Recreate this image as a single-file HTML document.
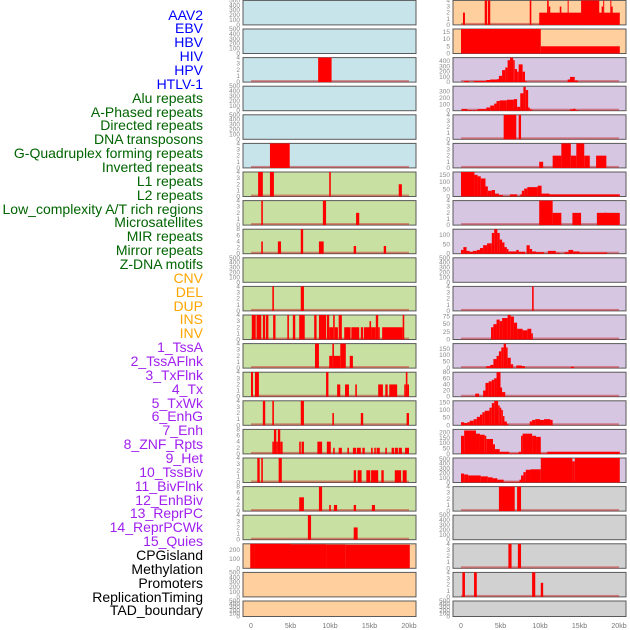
<!DOCTYPE html>
<html><head><meta charset="utf-8">
<style>
html,body{margin:0;padding:0;background:#fff;}
#wrap{position:relative;width:630px;height:630px;overflow:hidden;font-family:"Liberation Sans",sans-serif;}
.lbl{position:absolute;right:427px;font-size:14px;line-height:14px;white-space:nowrap;text-align:right;}
</style></head>
<body>
<div id="wrap">
<svg id="svg" width="630" height="630" style="position:absolute;left:0;top:0"></svg>
</div>
<script>
const trackLabels = ["AAV2","EBV","HBV","HIV","HPV","HTLV-1","Alu repeats","A-Phased repeats","Directed repeats","DNA transposons","G-Quadruplex forming repeats","Inverted repeats","L1 repeats","L2 repeats","Low_complexity A/T rich regions","Microsatellites","MIR repeats","Mirror repeats","Z-DNA motifs","CNV","DEL","DUP","INS","INV","1_TssA","2_TssAFlnk","3_TxFlnk","4_Tx","5_TxWk","6_EnhG","7_Enh","8_ZNF_Rpts","9_Het","10_TssBiv","11_BivFlnk","12_EnhBiv","13_ReprPC","14_ReprPCWk","15_Quies","CPGisland","Methylation","Promoters","ReplicationTiming","TAD_boundary"];
const labelGroup = ["b","b","b","b","b","b","g","g","g","g","g","g","g","g","g","g","g","g","g","o","o","o","o","o","p","p","p","p","p","p","p","p","p","p","p","p","p","p","p","k","k","k","k","k"];
const xTickLabels = ["0","5kb","10kb","15kb","20kb"];
const xTickValues = [0,5,10,15,20];
const leftBg = ["b","b","b","b","b","b","g","g","g","g","g","g","g","g","g","g","g","g","g","o","o","o"];
const rightBg = ["o","o","p","p","p","p","p","p","p","p","p","p","p","p","p","p","p","y","y","y","y","y"];
const leftMax = [500,500,4,500,500,4,4,4,8,500,4,4,4,4,4,8,4,8,4,270,500,500];
const rightMax = [4,17,470,380,4,4,170,4,130,500,4,80,190,80,160,230,520,4,500,4,4,500];
const leftTickStep = [100,100,1,100,100,1,1,1,2,100,1,1,1,1,1,2,1,2,1,100,100,100];
const rightTickStep = [1,5,100,100,1,1,50,1,50,100,1,25,50,20,50,50,100,1,100,1,1,100];
const leftSegs = [
[],[],
[[8.5,10.2,4]],
[],[],
[[2.4,4.9,4]],
[[0.9,1.5,4],[2.4,2.9,4],[9.9,10.1,4],[18.7,19.1,2]],
[[1.3,1.5,4],[9.1,9.5,4],[13.3,13.7,2]],
[[1.3,1.5,4],[3.4,3.8,4],[6.3,6.6,8],[8.6,9.2,4],[13,13.3,2.5],[16.8,17.1,2.5]],
[],
[[2.7,2.9,4],[6.3,6.7,4]],
[[0.1,0.6,4],[0.7,1.3,4],[1.5,1.8,4],[1.9,2.2,4],[2.8,3.1,4],[4.6,4.8,4],[5.3,5.6,4],[6.1,6.8,4],[8.0,8.3,4],[8.6,9.5,4],[9.6,9.9,4],[9.9,10.4,2],[10.4,10.6,4],[10.6,11.0,2],[11.1,11.5,4],[11.8,12.6,2],[12.7,13.7,2],[13.9,14.2,2],[14.3,15.0,2],[15.0,15.2,3],[15.2,15.8,2],[15.8,16.1,4],[16.1,16.3,2],[16.6,19.2,2],[19.2,19.4,4]],
[[8.1,8.6,4],[9.9,10.3,2],[10.3,10.5,4],[10.5,11.3,2],[11.3,12.0,4],[12.5,12.9,2]],
[[0,0.25,4],[0.5,1.0,4],[9.5,9.8,4],[10.9,11.3,2],[11.9,12.4,2],[13.2,13.4,2],[16.1,16.7,2],[17.0,17.3,2],[17.5,18.5,2],[19.4,19.6,2],[19.6,19.8,4],[19.8,20.0,2]],
[[1.5,1.8,4],[2.7,2.9,4],[6.3,6.7,4],[10.3,10.5,2],[13.9,14.2,2],[19.7,20.0,2]],
[[2.7,2.9,4],[2.9,3.2,8],[3.2,3.4,4],[3.4,3.7,8],[3.7,4.0,4],[6.1,6.3,4],[6.4,6.7,4],[8.4,9.0,4],[9.6,10.1,4],[10.4,10.6,2],[11.1,11.5,2],[12.2,12.4,2],[12.9,13.3,2],[13.4,13.9,2],[14.1,14.4,2],[15.2,15.4,2],[15.6,15.8,2],[15.9,16.3,2],[17.0,17.2,2],[17.8,18.1,2],[18.2,18.6,2],[18.7,19.1,2],[19.5,20.0,2]],
[[0.8,1.1,4],[1.3,1.5,4],[3.5,3.9,4],[13.0,13.3,2],[13.5,14.0,2],[14.6,15.1,2],[15.2,16.1,2],[16.5,16.8,2],[18.2,19.0,2],[19.2,19.7,2]],
[[6.1,6.7,4.5],[8.6,9.0,8],[9.9,10.1,2],[10.5,10.9,2],[13.0,13.3,2],[15.3,15.7,2]],
[[7.2,7.6,4],[13.0,13.5,2]],
[[-0.1,0.5,275],[0.5,5.0,270],[5.0,9.5,265],[9.5,12.0,262],[12.0,20.1,260]],
[],[]
];
const rightSegs = [
[[0.25,0.5,2],[3.0,3.3,4],[3.4,3.7,4],[8.7,8.9,4],[9.9,20.1,2],[10.9,11.1,4],[11.1,11.3,3],[12.5,12.7,3],[13.5,13.6,4],[15.2,17.5,4],[18.0,18.1,4],[17.8,18.0,3],[18.9,19.0,4],[19.0,19.2,3]],
[[0,10.1,17],[10.1,20.1,5]],
[[0.4,1.0,20],[1.6,3.2,20],[3.2,3.7,40],[3.7,4.6,50],[4.6,4.8,60],[4.8,5.2,120],[5.2,5.6,230],[5.6,5.9,280],[5.9,6.2,420],[6.2,6.6,470],[6.6,6.8,420],[6.8,7.1,250],[7.1,7.3,200],[7.3,7.8,340],[7.8,8.1,200],[8.1,8.3,20],[13.5,13.8,50],[13.8,14.4,100],[14.4,14.8,30]],
[[0.1,0.8,25],[0.8,1.4,10],[1.5,2.1,10],[2.1,3.2,25],[3.2,3.7,50],[3.7,4.2,80],[4.2,4.5,110],[4.5,4.9,150],[4.9,5.8,160],[5.8,6.7,170],[6.7,7.1,180],[7.1,7.5,60],[7.5,7.9,270],[7.9,8.2,370],[8.2,8.5,320],[8.5,8.7,50],[8.7,9.0,20],[13.8,14.2,20],[14.2,14.5,30],[14.5,14.8,10]],
[[5.4,7.0,4],[7.3,7.6,4]],
[[9.9,10.4,1],[11.6,12.7,2],[12.7,13.9,4],[13.9,14.6,2],[14.6,15.6,4],[15.6,16.3,2],[17.1,18.4,2]],
[[0,1.7,170],[1.7,2.1,150],[2.1,2.5,140],[2.5,3.1,125],[3.1,3.4,70],[3.4,3.9,40],[3.9,4.3,45],[4.3,4.8,20],[4.8,5.3,10],[6.2,7.1,15],[7.5,7.7,15],[7.7,8.0,40],[8.0,8.4,55],[8.4,9.7,65],[9.7,10.2,75],[10.2,11.2,20],[11.2,20.1,15]],
[[9.9,11.6,4],[11.6,12.7,2],[14.1,15.2,2],[17.2,18.5,2],[18.1,20.1,2]],
[[0,0.3,20],[0.3,0.7,35],[0.7,1.1,15],[1.1,1.5,10],[1.5,2.0,15],[2.0,2.4,20],[2.4,2.8,30],[2.8,3.3,45],[3.3,3.9,55],[3.9,4.2,110],[4.2,4.6,130],[4.6,4.9,110],[4.9,5.2,75],[5.2,5.5,60],[5.5,5.8,35],[5.8,6.0,25],[6.0,7.0,12],[7.0,7.3,20],[7.3,8.1,10],[8.3,8.7,45],[8.7,9.0,25],[9.0,9.5,12],[9.5,10.5,8],[11.0,12.0,15],[12.0,12.5,5],[13.1,13.6,8],[13.6,14.2,20],[14.2,15.0,12],[15.0,16.2,6],[16.2,18.5,6]],
[],
[[9.0,9.2,4]],
[[3.8,4.1,40],[4.1,4.5,50],[4.5,4.9,65],[4.9,5.2,60],[5.2,5.9,70],[5.9,6.3,85],[6.3,6.7,75],[6.7,7.1,55],[7.1,7.8,35],[7.8,8.4,30],[8.4,8.9,35],[8.9,9.1,20]],
[[3.2,3.7,15],[3.7,4.1,25],[4.1,4.5,70],[4.5,4.8,95],[4.8,5.1,130],[5.1,5.4,160],[5.4,5.7,190],[5.7,5.9,160],[5.9,6.3,80],[6.3,6.6,30],[7.0,7.7,20],[7.7,8.1,15],[13.9,14.3,10]],
[[1.8,2.3,10],[2.8,3.1,20],[3.1,3.5,45],[3.5,3.9,50],[3.9,4.2,55],[4.2,4.5,60],[4.5,5.0,80],[5.0,5.2,30],[5.2,5.6,15]],
[[0,0.4,20],[0.4,0.8,15],[0.8,1.1,20],[1.1,1.6,30],[1.6,2.0,40],[2.0,2.4,55],[2.4,2.7,70],[2.7,3.0,85],[3.0,3.6,95],[3.6,3.9,115],[3.9,4.2,145],[4.2,4.7,160],[4.7,4.9,130],[4.9,5.1,115],[5.1,5.3,100],[5.3,5.5,60],[5.5,5.8,25],[5.8,6.0,10],[8.7,9.0,25],[9.0,9.4,35],[9.4,10.0,40],[10.0,10.5,35],[10.5,11.3,40],[11.3,11.6,35]],
[[0,0.4,170],[0.4,1.9,220],[1.9,2.4,190],[2.4,3.0,180],[3.0,3.2,170],[3.2,4.05,140],[4.05,4.3,90],[4.3,4.9,45],[4.9,6.1,20],[6.1,7.3,5],[7.3,7.6,20],[7.6,7.8,170],[7.8,9.0,190],[9.0,9.5,170],[9.5,10.1,160],[10.1,10.9,5],[10.9,20.1,20]],
[[0,0.4,190],[0.4,0.9,170],[0.9,2.5,150],[2.5,3.4,130],[3.4,4.0,110],[4.0,4.6,90],[4.6,5.4,60],[5.4,7.4,15],[7.4,7.6,60],[7.6,7.9,150],[7.9,8.2,220],[8.2,8.8,270],[8.8,10.1,280],[10.1,14.1,520],[14.1,14.4,450],[14.4,20.1,520]],
[[4.8,6.8,4],[7.1,7.6,4]],
[],
[[6.0,6.4,4],[7.2,7.6,4]],
[[0.17,0.5,4],[1.65,2.0,4],[9.0,9.4,4],[10.1,10.4,2.3]],
[]
];

const NS="http://www.w3.org/2000/svg";
const svg=document.getElementById('svg');
const wrap=document.getElementById('wrap');
const bgColors={b:"#c8e4eb",g:"#c8e0a2",o:"#ffd09e",p:"#d6c6e2",y:"#d1d1d1"};
const textColors={b:"#0000ff",g:"#006400",o:"#ffa500",p:"#a020f0",k:"#000000"};
const colX=[243,453];
const panelW=173, pxPerKb=7.9;
function rowTop(i){return 0.4+28.6*i;}
function rowH(i){return i===21?15.5:24.5;}
function xScale(col,kb){return colX[col]+8+kb*pxPerKb;}
function yScale(i,max,v){const t=rowTop(i),h=rowH(i);return t+h-(v/max)*h;}
function mk(tag,attrs){const e=document.createElementNS(NS,tag);for(const k in attrs)e.setAttribute(k,attrs[k]);svg.appendChild(e);return e;}

// labels
trackLabels.forEach((t,i)=>{
  const d=document.createElement('div');
  d.className='lbl';
  d.textContent=t;
  d.style.top=(15+13.86*i-7.5)+'px';
  d.style.color=textColors[labelGroup[i]];
  
  
  wrap.appendChild(d);
});

function drawCol(col,bgs,maxs,steps,segs){
  for(let i=0;i<22;i++){
    const t=rowTop(i),h=rowH(i),x0=colX[col];
    const bg=mk('rect',{x:x0,y:t,width:panelW,height:h,fill:bgColors[bgs[i]],stroke:"#5a5a5a","stroke-width":1});
    
    
    const max=maxs[i],step=steps[i];
    for(let v=0;v<=max+0.001;v+=step){
      const tk=mk('text',{x:x0-3,y:yScale(i,max,v)+2,"font-size":"6.5","text-anchor":"end",fill:"#888"});
      tk.textContent=String(v);
      
      
    }
    if(segs[i].length){
      const bl=mk('rect',{x:xScale(col,0),y:t+h-2,width:20*pxPerKb,height:2,fill:"rgba(200,40,40,0.5)"});
      
      
    }
    segs[i].forEach(s=>{
      let xa=Math.max(x0+0.5,xScale(col,s[0])), xb=Math.min(x0+panelW-0.5,xScale(col,s[1]));
      const v=Math.min(s[2],max);
      const y=Math.max(t,yScale(i,max,v));
      const r=mk('rect',{x:xa,y:y,width:Math.max(1,xb-xa),height:t+h-y,fill:"#ff0000"});
      
      
    });
  }
  xTickValues.forEach((v,k)=>{
    const tx=mk('text',{x:xScale(col,v),y:628,"font-size":"7","text-anchor":"middle",fill:"#777"});
    tx.textContent=xTickLabels[k];
    
    
  });
}
drawCol(0,leftBg,leftMax,leftTickStep,leftSegs);
drawCol(1,rightBg,rightMax,rightTickStep,rightSegs);
</script>
</body></html>
